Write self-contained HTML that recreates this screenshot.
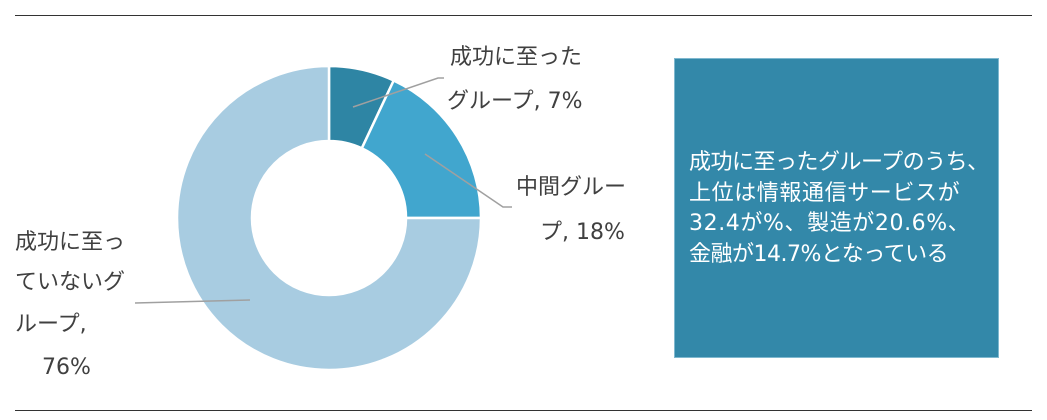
<!DOCTYPE html>
<html><head><meta charset="utf-8"><style>
body{margin:0;width:1047px;height:420px;background:#fff;overflow:hidden;position:relative;font-family:"DejaVu Sans","Noto Sans CJK JP",sans-serif;}
.t{position:absolute;font-size:22px;color:#404040;line-height:1;white-space:nowrap;}
.box{position:absolute;left:674px;top:58px;width:325px;height:300px;background:#3388a9;border:1px solid #7fb8cf;box-sizing:border-box;}
.bt{position:absolute;left:14px;top:89px;color:#fff;font-size:22px;line-height:30.5px;white-space:nowrap;letter-spacing:-0.5px;}
.bt span{letter-spacing:0.6px;}
</style></head><body>
<svg width="1047" height="420" style="position:absolute;left:0;top:0">
<line x1="15" y1="15.5" x2="1032" y2="15.5" stroke="#333" stroke-width="1"/>
<line x1="15" y1="410.5" x2="1032" y2="410.5" stroke="#333" stroke-width="1"/>
<g transform="translate(329,218)" stroke="#fff" stroke-width="2.5">
<path d="M0,-152 A152,152 0 0 1 64.7,-137.5 L32.8,-69.7 A77,77 0 0 0 0,-77 Z" fill="#2e85a4"/>
<path d="M64.7,-137.5 A152,152 0 0 1 152,0 L77,0 A77,77 0 0 0 32.8,-69.7 Z" fill="#41a6ce"/>
<path d="M152,0 A152,152 0 1 1 0,-152 L0,-77 A77,77 0 1 0 77,0 Z" fill="#a8cce1"/>
</g>
<polyline points="353,107 438,78 444,78" fill="none" stroke="#a0a0a0" stroke-width="1.5"/>
<polyline points="425,154 503,207 512,207" fill="none" stroke="#a0a0a0" stroke-width="1.5"/>
<polyline points="135,303 250,300" fill="none" stroke="#a0a0a0" stroke-width="1.5"/>
</svg>
<div class="t" style="left:450px;top:47px">成功に至った</div>
<div class="t" style="left:447px;top:91px">グループ, 7%</div>
<div class="t" style="left:516px;top:177px">中間グルー</div>
<div class="t" style="left:540px;top:222px">プ, 18%</div>
<div class="t" style="left:15px;top:232px">成功に至っ</div>
<div class="t" style="left:15px;top:272px">ていないグ</div>
<div class="t" style="left:15px;top:314px">ループ,</div>
<div class="t" style="left:42px;top:357px">76%</div>
<div class="box"><div class="bt">成功に至ったグループのうち、<br><span>上位は情報通信サービスが</span><br><span>32.4が%、製造が20.6%、</span><br>金融が14.7%となっている</div></div>
</body></html>
